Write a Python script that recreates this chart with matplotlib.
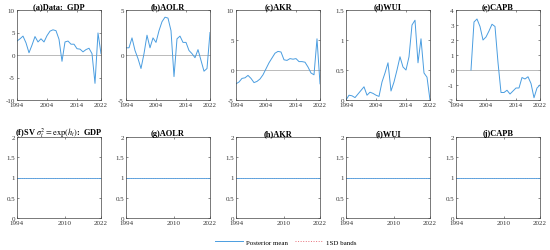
import matplotlib
matplotlib.use("Agg")
import matplotlib.pyplot as plt
import numpy as np

plt.rcParams['font.family'] = ['Liberation Serif', 'DejaVu Serif']
plt.rcParams['mathtext.fontset'] = 'stix'

years = np.arange(1994, 2023)

gdp = [3.1, 3.6, 4.2, 2.7, 0.5, 2.2, 4.1, 2.9, 3.6, 2.9, 4.3, 5.3, 5.6, 5.4, 3.5,
       -1.4, 2.9, 3.1, 2.4, 2.4, 1.4, 1.3, 0.7, 1.2, 1.5, 0.3, -6.3, 4.9, 0.3]
aolr = [0.8, 0.8, 1.9, 0.5, -0.4, -1.5, 0.15, 2.2, 0.8, 1.9, 1.4, 2.7, 3.7, 4.2, 4.1,
        2.7, -2.4, 1.8, 2.1, 1.4, 1.4, 0.5, 0.15, -0.3, 0.6, -0.6, -1.8, -1.5, 2.5]
akr = [-2.3, -2.0, -1.4, -1.3, -0.9, -1.4, -2.1, -1.9, -1.5, -0.8, 0.2, 1.2, 2.0, 2.8, 3.1,
       3.0, 1.7, 1.6, 1.9, 1.8, 1.9, 1.4, 1.4, 1.3, 0.5, -0.5, -0.8, 5.2, -2.3]
wui = [0.0, 0.08, 0.07, 0.04, 0.1, 0.16, 0.22, 0.08, 0.13, 0.11, 0.08, 0.06, 0.3, 0.45, 0.62,
       0.15, 0.3, 0.5, 0.72, 0.55, 0.5, 0.72, 1.25, 1.33, 0.62, 1.02, 0.45, 0.38, 0.0]
# CAPB starts in 1999
capb = [np.nan] * 5 + [0.0, 3.2, 3.4, 2.9, 2.0, 2.2, 2.6, 3.05, 2.9, 0.5,
                       -1.5, -1.5, -1.35, -1.6, -1.4, -1.2, -1.2, -0.5, -0.6, -0.45,
                       -0.9, -1.85, -1.2, -1.0]

series = [gdp, aolr, akr, wui, capb]
top_titles = ['(a)Data:  GDP', '(b)AOLR', '(c)AKR', '(d)WUI', '(e)CAPB']
top_ylims = [(-10, 10), (-5, 5), (-5, 10), (0, 1.5), (-2, 4)]
top_yticks = [[-10, -5, 0, 5, 10], [-5, 0, 5], [-5, 0, 5, 10], [0, 0.5, 1, 1.5],
              [-2, -1, 0, 1, 2, 3, 4]]
top_xticks = [1994, 2004, 2014, 2022]

bottom_titles = [r'(f)SV $\sigma_t^2=\exp(h_t)$:  GDP', '(g)AOLR', '(h)AKR', '(i)WUI', '(j)CAPB']
sv_mean = np.ones(len(years))
sv_band = np.ones(len(years))
bottom_xticks = [1994, 2010, 2022]
bottom_yticks = [0, 0.5, 1, 1.5, 2]

blue = '#4a9de0'
red = '#e8707a'

W, H = 550, 251
fig = plt.figure(figsize=(W / 100, H / 100), dpi=100)
lefts = [17, 126, 236, 346, 456]
aw = 84


def style(ax):
    ax.tick_params(direction='in', length=1.5, width=0.4, labelsize=5, pad=1.5,
                   top=True, right=True, colors='#333333')
    for s in ax.spines.values():
        s.set_linewidth(0.5)
        s.set_color('#444444')


for i in range(5):
    ax = fig.add_axes([lefts[i] / W, 1 - 101 / H, aw / W, 90 / H])
    ax.axhline(0, color='#b0b0b0', lw=0.6)
    ax.plot(years, series[i], color=blue, lw=0.7)
    ax.set_xlim(1994, 2022)
    ax.set_ylim(*top_ylims[i])
    ax.set_xticks(top_xticks)
    ax.set_yticks(top_yticks[i])
    ax.set_yticklabels([f'{v:g}' for v in top_yticks[i]])
    ax.set_title(top_titles[i], fontsize=6, fontweight='bold', pad=1.5)
    style(ax)

for i in range(5):
    ax = fig.add_axes([lefts[i] / W, 1 - 219 / H, aw / W, 81 / H])
    ax.plot(years, sv_band, color=red, lw=0.6, ls=':')
    ax.plot(years, sv_mean, color=blue, lw=0.6)
    ax.set_xlim(1994, 2022)
    ax.set_ylim(0, 2)
    ax.set_xticks(bottom_xticks)
    ax.set_yticks(bottom_yticks)
    ax.set_yticklabels([f'{v:g}' for v in bottom_yticks])
    ax.set_title(bottom_titles[i], fontsize=6, fontweight='bold', pad=1.5)
    style(ax)

handles = [plt.Line2D([], [], color=blue, lw=0.7),
           plt.Line2D([], [], color=red, lw=0.7, ls=':')]
fig.legend(handles, ['Posterior mean', '1SD bands'], loc='center',
           bbox_to_anchor=(0.52, 0.032), ncol=2, frameon=False, fontsize=5,
           handlelength=4, columnspacing=1.0, handletextpad=0.5)

fig.savefig('out.png', dpi=100)
